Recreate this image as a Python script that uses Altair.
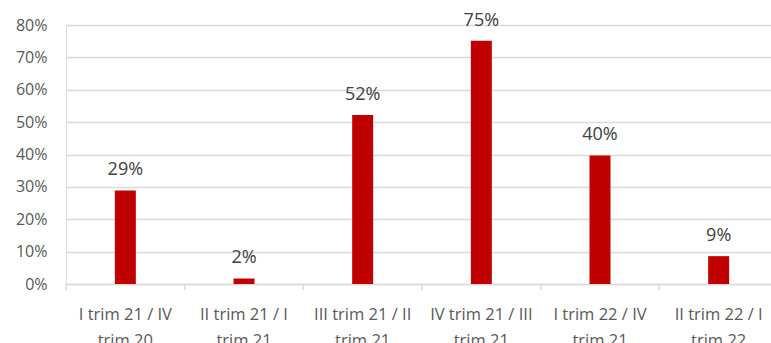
import altair as alt
import pandas as pd

categories = [
    "I trim 21 / IV trim 20",
    "II trim 21 / I trim 21",
    "III trim 21 / II trim 21",
    "IV trim 21 / III trim 21",
    "I trim 22 / IV trim 21",
    "II trim 22 / I trim 22",
]
values = [0.289, 0.017, 0.522, 0.751, 0.397, 0.086]

df = pd.DataFrame({"cat": categories, "val": values})

FONT = "Open Sans"

xaxis = alt.Axis(
    labelAngle=0,
    labelFont=FONT,
    labelFontSize=16.5,
    labelColor="#595959",
    labelPadding=22,
    labelLineHeight=26,
    labelLimit=300,
    labelExpr="[slice(datum.label, 0, lastindexof(datum.label, ' trim')), slice(datum.label, lastindexof(datum.label, ' trim') + 1)]",
    domainColor="#d9d9d9",
    domainWidth=1.5,
    ticks=False,
    grid=False,
    gridWidth=0,
    gridOpacity=0,
)
xscale = alt.Scale(range=[0, 712], paddingInner=0, paddingOuter=0)

x = alt.X("cat:N", sort=None, title=None, scale=xscale, axis=xaxis)
y = alt.Y(
    "val:Q",
    title=None,
    scale=alt.Scale(domain=[0, 0.8], nice=False),
    axis=alt.Axis(
        format=".0%",
        values=[0, 0.1, 0.2, 0.3, 0.4, 0.5, 0.6, 0.7, 0.8],
        labelFont=FONT,
        labelFontSize=16,
        labelColor="#595959",
        labelPadding=19,
        labelOverlap=False,
        domain=False,
        ticks=False,
        gridColor="#d9d9d9",
        gridWidth=1.5,
    ),
)

bars = alt.Chart(df).mark_bar(color="#c00000", size=21).encode(x=x, y=y)
labels = alt.Chart(df).mark_text(
    font=FONT, fontSize=18, color="#404040", baseline="bottom", dy=-11
).encode(x=x, y=y, text=alt.Text("val:Q", format=".0%"))
ticks = alt.Chart(df).mark_rule(color="#d9d9d9", strokeWidth=1.5).encode(
    x=alt.X("cat:N", sort=None, bandPosition=0, title=None, scale=xscale, axis=xaxis),
    y=alt.value(259),
    y2=alt.value(265),
)

chart = (
    alt.layer(bars, labels, ticks)
    .properties(
        width=705,
        height=259,
        autosize=alt.AutoSizeParams(type="none"),
        padding={"left": 66, "top": 25, "right": 0, "bottom": 59},
    )
    .configure_view(stroke="transparent", strokeWidth=0)
    .configure_axisBand(grid=False)
    .configure_axisX(grid=False)
    .configure(background="white")
)

chart.save("out.html", embed_options={"renderer": "svg", "actions": False})
